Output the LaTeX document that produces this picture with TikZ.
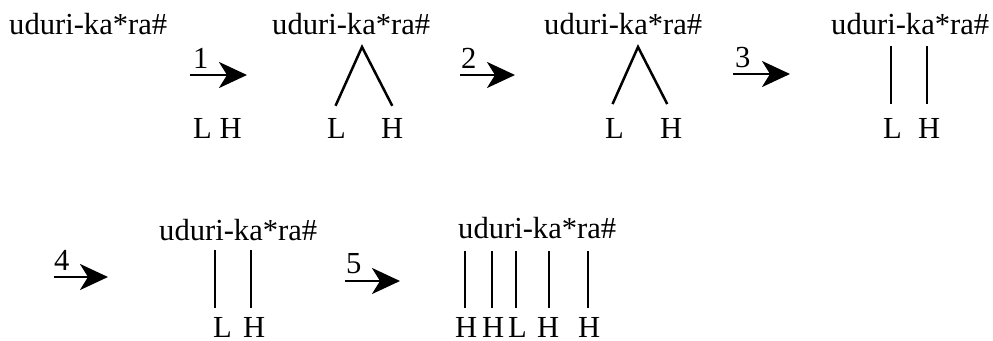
\documentclass[tikz,border=0pt]{standalone}
\usepackage{fontspec}
\setmainfont{Liberation Serif}
\usetikzlibrary{arrows.meta}
\newcommand\dfont{\fontsize{30.6}{36}\selectfont}
\begin{document}
\begin{tikzpicture}[x=1pt,y=-1pt,
  every node/.style={inner sep=0pt, font=\dfont},
  word/.style={anchor=base west},
  tone/.style={anchor=base west},
  numlabel/.style={anchor=base west},
  steparrow/.style={line width=2.7pt, -{Stealth[length=28pt,width=26pt,inset=8pt]}},
  assoc/.style={line width=2.5pt}]
\useasboundingbox (0,0) rectangle (993,340);

% words
\node[word] (w1) at (9,34) {uduri-ka*ra\#};
\node[word] (w2) at (272,34) {uduri-ka*ra\#};
\node[word] (w3) at (544,34) {uduri-ka*ra\#};
\node[word] (w4) at (831,34) {uduri-ka*ra\#};
\node[word] (w5) at (159,240) {uduri-ka*ra\#};
\node[word] (w6) at (458,238) {uduri-ka*ra\#};

% step arrows
\coordinate (a1s) at (190,75); \coordinate (a1e) at (247,75);
\coordinate (a2s) at (460,75); \coordinate (a2e) at (515,75);
\coordinate (a3s) at (733,74); \coordinate (a3e) at (790,74);
\coordinate (a4s) at (54,277); \coordinate (a4e) at (108,277);
\coordinate (a5s) at (345,281); \coordinate (a5e) at (400,281);
\draw[steparrow] (a1s) -- (a1e);
\draw[steparrow] (a2s) -- (a2e);
\draw[steparrow] (a3s) -- (a3e);
\draw[steparrow] (a4s) -- (a4e);
\draw[steparrow] (a5s) -- (a5e);
\node[numlabel] (n1) at (193,68) {1};
\node[numlabel] (n2) at (461,68) {2};
\node[numlabel] (n3) at (735,67) {3};
\node[numlabel] (n4) at (54,270) {4};
\node[numlabel] (n5) at (346,273) {5};

% tones
\node[tone] (lh1) at (193,138) {L H};
\node[tone] (L2) at (327,138) {L};
\node[tone] (H2) at (381,138) {H};
\node[tone] (L3) at (605,138) {L};
\node[tone] (H3) at (660,138) {H};
\node[tone] (L4) at (883,138) {L};
\node[tone] (H4) at (918,138) {H};
\node[tone] (L5) at (213,337) {L};
\node[tone] (H5) at (243,337) {H};
\node[tone] (H6a) at (455,337) {H};
\node[tone] (H6b) at (482,337) {H};
\node[tone] (L6) at (508,337) {L};
\node[tone] (H6c) at (537,337) {H};
\node[tone] (H6d) at (578,337) {H};

% association lines
\coordinate (p2) at (362,47);
\draw[assoc] ([xshift=-1pt,yshift=12pt]L2.north) -- (p2) -- ([yshift=12pt]H2.north);
\coordinate (p3) at (638,47);
\draw[assoc] ([xshift=-2pt,yshift=13.7pt]L3.north) -- (p3) -- ([xshift=-4pt,yshift=13.7pt]H3.north);

\coordinate (p4a) at (891,46); \coordinate (p4b) at (927,46);
\draw[assoc, shorten >=13.7pt] (p4a) -- (p4a |- L4.north);
\draw[assoc, shorten >=13.7pt] (p4b) -- (p4b |- H4.north);

\coordinate (p5a) at (215,250); \coordinate (p5b) at (251,250);
\draw[assoc, shorten >=8.7pt] (p5a) -- (p5a |- L5.north);
\draw[assoc, shorten >=8.7pt] (p5b) -- (p5b |- H5.north);

\coordinate (p6a) at (465,251); \coordinate (p6b) at (492,251);
\coordinate (p6c) at (516,251); \coordinate (p6d) at (549,251);
\coordinate (p6e) at (588,251);
\draw[assoc, shorten >=8.7pt] (p6a) -- (p6a |- H6a.north);
\draw[assoc, shorten >=8.7pt] (p6b) -- (p6b |- H6b.north);
\draw[assoc, shorten >=8.7pt] (p6c) -- (p6c |- L6.north);
\draw[assoc, shorten >=8.7pt] (p6d) -- (p6d |- H6c.north);
\draw[assoc, shorten >=8.7pt] (p6e) -- (p6e |- H6d.north);
\end{tikzpicture}
\end{document}
